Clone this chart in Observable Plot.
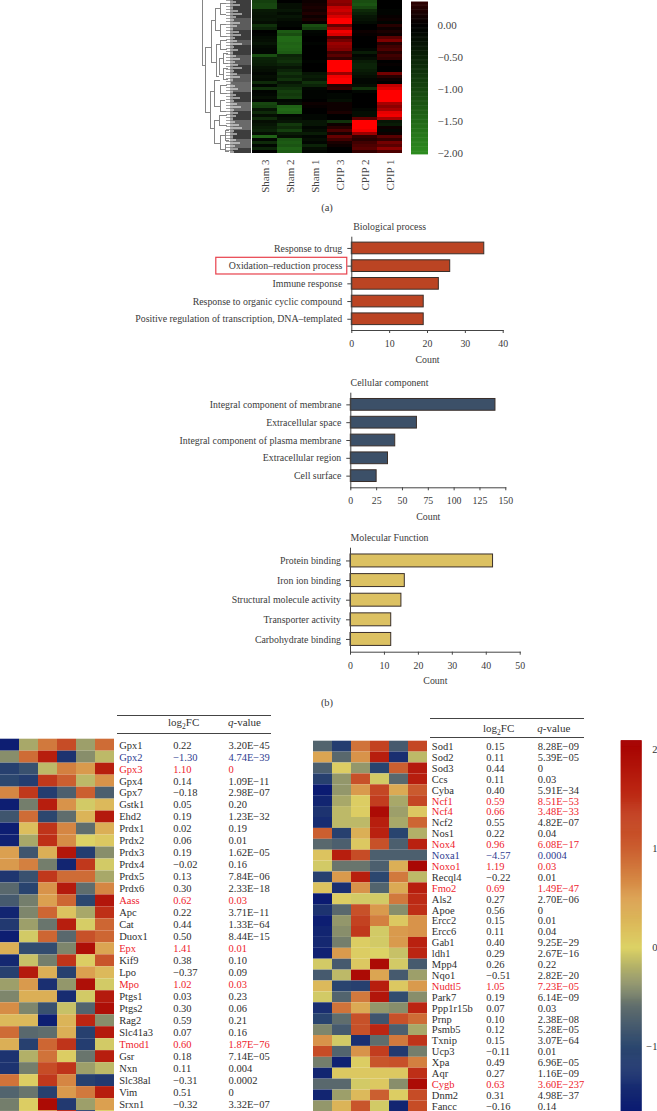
<!DOCTYPE html>
<html>
<head>
<meta charset="utf-8">
<script src="https://cdn.jsdelivr.net/npm/d3@7"></script>
<script src="https://cdn.jsdelivr.net/npm/@observablehq/plot@0.6"></script>
<style>
html,body{margin:0;padding:0;background:#fff;}
#page{position:relative;width:657px;height:1111px;overflow:hidden;font-family:"Liberation Serif",serif;color:#3a3a3a;background:#fff;}
#page svg{position:absolute;left:0;background:transparent;max-width:none;}
.cap{position:absolute;font-size:10.5px;transform:translate(-50%,-50%);}
.rule{position:absolute;border-top:1px solid #444;border-bottom:1px solid #444;}
.hd{position:absolute;font-size:11px;transform:translateY(-50%);white-space:nowrap;color:#333;}
.hd sub{font-size:7.5px;line-height:0;}
</style>
</head>
<body>
<div id="page"></div>
<script>
// ---------- Panel (a) : heat map ----------
const samples = ["Sham 3","Sham 2","Sham 1","CPIP 3","CPIP 2","CPIP 1"];
const sham3 = [-.9,-1,-1,-.35,-.3,-.25,-.3,-.2,-.7,-.5,0,-.05,-.15,-.2,-.3,-.15,-.1,-.1,-1.1,-.5,-.45,-.4,-.25,-.2,-.1,-.2,-.15,-.6,-.1,-.7,-.05,-.1,-.2,-.05,-1,-.9,-.3,-.6,-.2,-.6,-.2,-.3,-.4,-.5,-.2,-1.4,-.1,-.6,-.1,-.5,0];
const sham2 = [0,-.2,-.2,-.3,-.15,-.3,-.2,-.1,-.1,0,-1.3,-1.1,-1.5,-1.5,-1.4,-1.45,-1.4,-1.3,-.5,-.6,-.7,-.5,-.3,-.5,-.7,-.5,-.7,-.3,-.5,-.7,-.9,-.8,-.9,-.1,-.2,-1.4,-1.5,-1.4,-.1,-.2,-.3,-.8,-.6,-.9,-.4,-.2,-1.2,-1.3,-1.2,-1.4,-1.3];
const sham1 = [.1,.15,.2,.15,.25,.1,.2,.05,-1.1,-.9,-.1,-.05,0,0,-.05,0,0,0,0,0,-.05,0,0,0,-.3,-.4,-.3,-.7,-.5,-.1,-.05,-.05,-.05,0,.1,.05,0,0,-.1,-.1,-.3,-.3,-.1,-.2,-.4,-.1,-.2,-.1,-.5,-.2,-.1];
const cpip3 = [1.1,1,1.5,1.6,1.4,1.7,2.2,2.2,.8,1.3,1.9,1.7,.6,.9,1.2,1.1,1,.5,.7,.4,2,2,2.1,2,1.2,1.9,2,2.1,.3,.4,0,-.1,-.1,-.2,.1,.1,.1,.2,0,0,-.7,.1,.3,.6,.2,.8,.5,.2,.1,0,0];
const cpip2 = [-1.1,-1.2,-1,-.6,-.45,-.3,-.25,-.15,0,0,.1,.05,0,0,0,0,-.1,-.4,-.1,-.2,-.4,-.5,-.5,-.4,-.3,-.2,-.1,-.1,-.2,-.7,-.1,0,0,0,0,0,-.1,-.2,-.2,.7,2.1,2.2,2,1.9,1.2,.4,.3,.5,.6,.7,.4];
const cpip1 = [0,0,0,-.05,-.05,.05,.1,-.05,.3,.1,.2,.1,.7,1,.3,.5,.6,.3,.5,.4,0,.05,0,0,.9,.3,.1,0,1.5,1.7,2.1,2.2,2.2,2.1,1.3,1.1,1.3,1.8,1.9,1.3,-.3,-.4,.1,-.1,.1,.7,.4,.9,.7,1.1,.6];
const expression = [sham3,sham2,sham1,cpip3,cpip2,cpip1];
const heatDomain = [-2,0,2];
const heatColors = ["#2d8c1f","#000000","#ff0000"];
const heatTicks = [-2,-1.5,-1,-.5,0];
const heatStops = d3.range(-2,.38,.02);

// dendrogram clades: [depth, end1, end2, child depth at end1, child depth at end2]
const clades = [
 [2,-3,65,8,5],[5,47,112,11,10],[11,20,62,15,16],[15,8,30,20,20],[20,3,14,26,26],[20,24,36,26,27],
 [16,44,76,20,19],[20,40,49,27,27],[19,58,74,23,23],[23,53,63,28,28],[23,68,79,28,28],
 [10,91,128,14,14],[14,80,106,20,20],[20,85,93,27,27],[20,100,111,25,26],
 [14,120,143,19,20],[19,115,125,27,27],[20,135,149,25,25],[25,130,140,29,29],[25,144,151,29,29]];
const leafBands = [[0,9,0],[9,18,0],[18,30,1],[30,40,0],[40,45,1],[45,55,0],[55,65,1],[65,74,0],[74,82,1],[82,92,2],[92,102,0],[102,111,2],[111,120,0],[120,130,2],[130,139,0],[139,148,2],[148,153,0]];
const leafTips = [36,40,33,38,42,36,34,40,37,33,39,41,35,37,42,34,38,33,36,40,35,38,42,34,37,40,33,31,35,38,33,36,40,34,37,41,34,38,36,33,35,39,42,34,37,33,36,40,35,38,34];

// ---------- Panel (b) : enrichment bars ----------
const bpTerms = ["Response to drug","Oxidation–reduction process","Immune response","Response to organic cyclic compound","Positive regulation of transcription, DNA–templated"];
const bpCounts = [35,26,23,19,19];
const ccTerms = ["Integral component of membrane","Extracellular space","Integral component of plasma membrane","Extracellular region","Cell surface"];
const ccCounts = [140,64,43,36,25];
const mfTerms = ["Protein binding","Iron ion binding","Structural molecule activity","Transporter activity","Carbohydrate binding"];
const mfCounts = [42,16,15,12,12];
const highlightTerm = "Oxidation–reduction process";
const highlightSpan = [-35.8,-1.2];

// ---------- Panel (c) : tables ----------
const leftGenes = ["Gpx1","Gpx2","Gpx3","Gpx4","Gpx7","Gstk1","Ehd2","Prdx1","Prdx2","Prdx3","Prdx4","Prdx5","Prdx6","Aass","Apc","Cat","Duox1","Epx","Kif9","Lpo","Mpo","Ptgs1","Ptgs2","Rag2","Slc41a3","Tmod1","Gsr","Nxn","Slc38al","Vim","Srxn1",""];
const leftFC = ["0.22","−1.30","1.10","0.14","−0.18","0.05","0.19","0.02","0.06","0.19","−0.02","0.13","0.30","0.62","0.22","0.44","0.50","1.41","0.38","−0.37","1.02","0.03","0.30","0.59","0.07","0.60","0.18","0.11","−0.31","0.51","−0.32",""];
const leftQ = ["3.20E−45","4.74E−39","0","1.09E−11","2.98E−07","0.20","1.23E−32","0.19","0.01","1.62E−05","0.16","7.84E−06","2.33E−18","0.03","3.71E−11","1.33E−64","8.44E−15","0.01","0.10","0.09","0.03","0.23","0.06","0.21","0.16","1.87E−76","7.14E−05","0.004","0.0002","0","3.32E−07",""];
const leftHeat = [
[-1.6,-.25,.8,1.2,-.3,.9],[-.4,.9,1.7,-1.3,-.4,-.15],[-1.1,-.9,-.15,.75,.55,1.7],[-1,-1.15,1.4,1,-.15,.6],
[.7,1.4,-1.15,-.75,1,-.75],[-1.6,-.5,1.7,.6,-.05,.25],[-.85,.9,-1,-.6,.3,1.75],[-1.6,.2,1.45,.7,-.6,.35],
[-1.55,-.25,1.5,.65,0,.1],[.5,-.85,.35,1.8,-1.15,-.4],[.55,.75,-.5,-1.5,1.4,-.05],[-1.25,-.9,1.4,.9,.9,-.25],
[-.65,-1.05,.6,1.75,-.6,.7],[-.8,-.5,.5,.95,-1,1.8],[-1.5,-.45,.95,.15,-.25,1.5],[-1.2,-.3,-.55,1.7,-.03,.95],
[-1.6,-.05,.95,-.65,1.15,.95],[.35,-.95,-.95,-.45,1.9,.45],[-1.45,-.1,-.5,1.45,.05,1.1],[-1.1,1.75,.35,-1.1,.5,.25],
[-.3,.55,-1.35,-.35,1.9,-.05],[-.45,.35,.35,-1.4,-.05,1.75],[.65,-.45,-.9,-.1,-.7,1.9],[.25,.25,-1.6,.3,1.6,-.4],
[.9,-.65,-.6,.35,-1.1,1.75],[.35,-1.1,.95,1.45,-1.15,-.05],[-1.3,-.2,.85,.05,-.55,1.7],[-1.3,-.5,1.2,1.45,-.3,-.15],
[.85,.05,1.4,.7,-1.1,-1.2],[-.7,-.55,-1.1,.55,.8,1.7],[-.5,.05,1.95,-1.2,-.3,.5],[-.5,.05,.6,1.7,-1.1,.05]];

const rightGenes = ["Sod1","Sod2","Sod3","Ccs","Cyba","Ncf1","Ncf4","Ncf2","Nos1","Nox4","Noxa1","Noxo1","Recql4","Fmo2","Als2","Apoe","Ercc2","Ercc6","Gab1","ldh1","Mpp4","Nqo1","Nudtl5","Park7","Ppp1r15b","Prnp","Psmb5","Txnip","Ucp3","Xpa","Aqr","Cygb","Dnm2","Fancc"];
const rightFC = ["0.15","0.11","0.44","0.11","0.40","0.59","0.66","0.55","0.22","0.96","−4.57","1.19","−0.22","0.69","0.27","0.56","0.15","0.11","0.40","0.29","0.26","−0.51","1.05","0.19","0.07","0.10","0.12","0.15","−0.11","0.49","0.27","0.63","0.31","−0.16"];
const rightQ = ["8.28E−09","5.39E−05","0","0.03","5.91E−34","8.51E−53","3.48E−33","4.82E−07","0.04","6.08E−17","0.0004","0.03","0.01","1.49E−47","2.70E−06","0","0.01","0.04","9.25E−29","2.67E−16","0.22","2.82E−20","7.23E−05","6.14E−09","0.03","2.38E−08","5.28E−05","3.07E−64","0.01","6.96E−05","1.16E−09","3.60E−237","4.98E−37","0.14"];
const rightHeat = [
[-.7,-1.15,.85,1.3,-.8,1.25],[.45,-.65,.6,1.7,-1.35,-.15],[-.75,.05,-.35,-1.05,1,1.75],[-1.1,-.35,1.15,-.05,-.65,1.7],
[-1.65,-.35,.55,1.25,.4,1.05],[-1.5,-.25,.05,1.35,-.25,1.25],[-1.3,-.15,.05,1.95,-.3,.1],[-1.4,-.15,-.15,1.7,-.25,.95],
[1,-1.1,.35,1.65,-1.05,-.2],[-.65,-.75,.1,1.15,-.75,1.65],[.15,1.7,1.2,-.75,-.75,-.75],[-.05,-.55,-.55,-.75,.35,2],
[-1.1,.55,1.7,-1,.8,-.15],[.15,-1.35,.6,-.7,.4,1.7],[-1.65,.05,-.05,-.05,.8,1.55],[-1.3,-.65,1.15,.55,-.4,1.5],
[-1.6,-.35,1.3,.75,.1,.6],[-1.5,-.4,1.4,-.05,.55,.6],[-1.45,-.5,.05,-.05,.55,1.65],[-1.55,.55,.05,0,-.1,1.6],
[-.05,-.8,.1,1.95,-.05,-.8],[-.8,-.15,1.95,.45,-.8,-.3],[.25,-1.05,-1.1,1.7,.1,.55],[-.05,-.7,.8,1.8,-.95,-.4],
[-1.35,.85,.4,-.35,-.4,1.6],[-1.05,-.6,1.15,-.85,1.15,.9],[-.45,-.8,1.15,1.6,-.75,-.25],[.6,-.05,-1.35,-.6,.8,1.45],
[1.2,-.7,.6,1.35,-1.2,-.5],[-.5,-1.55,.05,1.1,1.15,.75],[-1.5,.1,.1,.1,.1,1.5],[-.65,-.65,-.05,.1,-.4,1.95],
[-1.5,-.3,.25,1,.05,1.2],[-.35,.3,1.1,-.05,-1.5,1.2]];

const upRegulated = ["Gpx3","Aass","Epx","Mpo","Tmod1","Ncf1","Ncf4","Nox4","Noxo1","Fmo2","Nudtl5","Cygb"];
const downRegulated = ["Gpx2","Noxa1"];
const zDomain = [-1.66,-1,-.6,-.3,0,.5,1,1.6,2.1];
const zColors = ["#0a1a72","#2c476f","#5f6d6d","#9d9f6a","#dcd265","#dba050","#cb5f30","#bb2512","#a50000"];
const zTicks = [-1,0,1,2];
const zStops = d3.range(-1.66,2.1,.01);

// ---------- helpers ----------
const page = document.getElementById("page");
const font = "Liberation Serif";
function place(svg, top){ svg.style.top = top + "px"; page.appendChild(svg); return svg; }
function addDiv(cls, css, html){ const d=document.createElement("div"); d.className=cls; d.style.cssText=css; if(html) d.innerHTML=html; page.appendChild(d); }

// heat map
const heatCells = samples.flatMap((s,j)=>expression[j].map((v,i)=>({sample:s,row:i,v})));
place(Plot.plot({
  width:657,height:200,marginLeft:251,marginRight:254,marginTop:0,marginBottom:47,
  style:{fontFamily:font,fontSize:"11px",color:"#444"},
  x:{domain:samples,padding:0,label:null},
  y:{domain:d3.range(51),padding:0,axis:null,round:false},
  color:{type:"linear",domain:heatDomain,range:heatColors,clamp:true},
  marks:[
    Plot.cell(heatCells,{x:"sample",y:"row",fill:"v"}),
    Plot.axisX({anchor:"bottom",tickSize:0,tickPadding:6,tickRotate:-90,label:null})
  ]
}),0);

// dendrogram
const ends = clades.flatMap(([d,a,b,da,db])=>[{y:a,x1:d,x2:da},{y:b,x1:d,x2:db}]);
place(Plot.plot({
  width:657,height:153,marginLeft:200,marginRight:406,marginTop:0,marginBottom:0,
  x:{domain:[0,51],axis:null},
  y:{domain:[0,153],reverse:true,axis:null},
  marks:[
    Plot.rect(leafBands,{x1:()=>30,x2:()=>51,y1:d=>d[0],y2:d=>d[1],fill:d=>["#3d3d3d","#5c5c5c","#6a6a6a"][d[2]]}),
    Plot.ruleY(leafTips,{y:(d,i)=>3*i+1.5,x1:()=>27,x2:d=>d,stroke:"#fff",strokeWidth:1}),
    Plot.ruleY(leafTips,{y:(d,i)=>3*i,x1:()=>26,x2:()=>33,stroke:"#8a8a8a",strokeWidth:.8}),
    Plot.ruleX(clades,{x:d=>d[0],y1:d=>d[1],y2:d=>d[2],stroke:"#858585",strokeWidth:1}),
    Plot.ruleY(ends,{y:"y",x1:"x1",x2:"x2",stroke:"#858585",strokeWidth:1})
  ]
}),0);

// heat colour bar
place(Plot.plot({
  width:657,height:165,marginLeft:411,marginRight:229,marginTop:0,marginBottom:12,
  style:{fontFamily:font,fontSize:"11px",color:"#444"},
  x:{axis:null},
  y:{domain:[-2,.39],label:null},
  color:{type:"linear",domain:heatDomain,range:heatColors,clamp:true},
  marks:[
    Plot.ruleY(heatStops,{y:d=>d,stroke:d=>d,strokeWidth:1.8}),
    Plot.axisY({anchor:"right",ticks:heatTicks,tickSize:0,tickPadding:9,tickFormat:d3.format(".2f"),label:null})
  ]
}),0);

addDiv("cap","left:327px;top:207px;","(a)");

// bar panels
function bars({terms,counts,fill,top,height,mt,mb,left,right,domain,ticks,title,titleAt,outer,highlight}){
  const rows = terms.map((t,i)=>({t,c:counts[i]}));
  return place(Plot.plot({
    width:657,height,marginTop:mt,marginBottom:mb,marginLeft:left,marginRight:657-right,
    style:{fontFamily:font,fontSize:"9.85px",color:"#3a3a3a"},
    x:{domain,label:null},
    y:{domain:terms,paddingInner:.34,paddingOuter:outer,round:false,label:null},
    marks:[
      highlight ? Plot.barX([highlight],{y:d=>d,x1:()=>highlightSpan[0],x2:()=>highlightSpan[1],fill:"none",stroke:"#e8414c",strokeWidth:1.2,insetTop:-2.5,insetBottom:-2.5}) : null,
      Plot.barX(rows,{y:"t",x:"c",fill,stroke:"#3a2f2a",strokeWidth:1}),
      Plot.frame({anchor:"left",stroke:"#444"}),
      Plot.frame({anchor:"bottom",stroke:"#444"}),
      Plot.axisY({tickSize:4,tickPadding:5.5,label:null,stroke:"#444"}),
      Plot.axisX({ticks,tickSize:3,tickPadding:6.5,label:null,stroke:"#444"}),
      Plot.text([title],{x:()=>titleAt,frameAnchor:"top",lineAnchor:"middle",dy:-10.7,text:d=>d}),
      Plot.text(["Count"],{x:()=>(domain[0]+domain[1])/2,frameAnchor:"bottom",lineAnchor:"middle",dy:29,text:d=>d})
    ]
  }),top);
}
bars({terms:bpTerms,counts:bpCounts,fill:"#bb4423",top:215,height:155,mt:21.7,mb:40,left:351.3,right:502.7,domain:[0,40],ticks:[0,10,20,30,40],title:"Biological process",titleAt:10,outer:.305,highlight:highlightTerm});
bars({terms:ccTerms,counts:ccCounts,fill:"#3c5068",top:370,height:155,mt:22.7,mb:37.7,left:350.3,right:505.3,domain:[0,150],ticks:[0,25,50,75,100,125,150],title:"Cellular component",titleAt:37.5,outer:.325});
bars({terms:mfTerms,counts:mfCounts,fill:"#dcc162",top:525,height:170,mt:22.7,mb:43.3,left:350,right:519.7,domain:[0,50],ticks:[0,10,20,30,40,50],title:"Molecular Function",titleAt:11.5,outer:.32});
addDiv("cap","left:327px;top:702px;","(b)");

// tables
function table({genes,fc,q,heat,top,mt,rowH,left,cols}){
  const cells = heat.flatMap((r,i)=>r.map((v,j)=>({i,j,v})));
  const rows = genes.map((g,i)=>({i,g,f:fc[i],q:q[i]}));
  const ink = d => upRegulated.includes(d.g) ? "#ee1c2c" : downRegulated.includes(d.g) ? "#2f3c90" : "#2e2e2e";
  return place(Plot.plot({
    width:657,height:1111-top,marginTop:0,marginBottom:0,marginLeft:left,marginRight:657-left-114.4,
    style:{fontFamily:font,fontSize:"10.5px"},
    x:{domain:d3.range(6),padding:0,axis:null},
    y:{domain:d3.range(genes.length),range:[mt,mt+rowH*genes.length],padding:0,round:false,axis:null},
    color:{type:"linear",domain:zDomain,range:zColors,clamp:true},
    marks:[
      Plot.cell(cells,{x:"j",y:"i",fill:"v"}),
      Plot.text(rows,{y:"i",text:"g",fill:ink,frameAnchor:"left",textAnchor:"start",dx:cols[0]-left}),
      Plot.text(rows,{y:"i",text:"f",fill:ink,frameAnchor:"left",textAnchor:"start",dx:cols[1]-left}),
      Plot.text(rows,{y:"i",text:"q",fill:ink,frameAnchor:"left",textAnchor:"start",dx:cols[2]-left})
    ]
  }),top);
}
table({genes:leftGenes,fc:leftFC,q:leftQ,heat:leftHeat,top:738,mt:.7,rowH:11.98,left:0,cols:[118.7,172.7,228]});
table({genes:rightGenes,fc:rightFC,q:rightQ,heat:rightHeat,top:740,mt:.7,rowH:10.9,left:312.3,cols:[431.3,485.7,537.3]});

// table headers
addDiv("rule","left:117px;top:715px;width:154px;height:16.5px;");
addDiv("hd","left:168px;top:722px;","log<sub>2</sub>FC");
addDiv("hd","left:228px;top:722px;","<i>q</i>-value");
addDiv("rule","left:430px;top:718px;width:154px;height:17.5px;");
addDiv("hd","left:483px;top:728px;","log<sub>2</sub>FC");
addDiv("hd","left:537.3px;top:728px;","<i>q</i>-value");

// z-score colour bar
place(Plot.plot({
  width:657,height:371,marginLeft:620.7,marginRight:15.3,marginTop:0,marginBottom:0,
  style:{fontFamily:font,fontSize:"10.5px",color:"#333"},
  x:{axis:null},
  y:{domain:[-1.66,2.094],label:null},
  color:{type:"linear",domain:zDomain,range:zColors,clamp:true},
  marks:[
    Plot.ruleY(zStops,{y:d=>d,stroke:d=>d,strokeWidth:1.6}),
    Plot.axisY({anchor:"right",ticks:zTicks,tickSize:0,tickPadding:15.3,textAnchor:"end",tickFormat:d=>d3.format("d")(d),label:null})
  ]
}),740);
</script>
</body>
</html>
